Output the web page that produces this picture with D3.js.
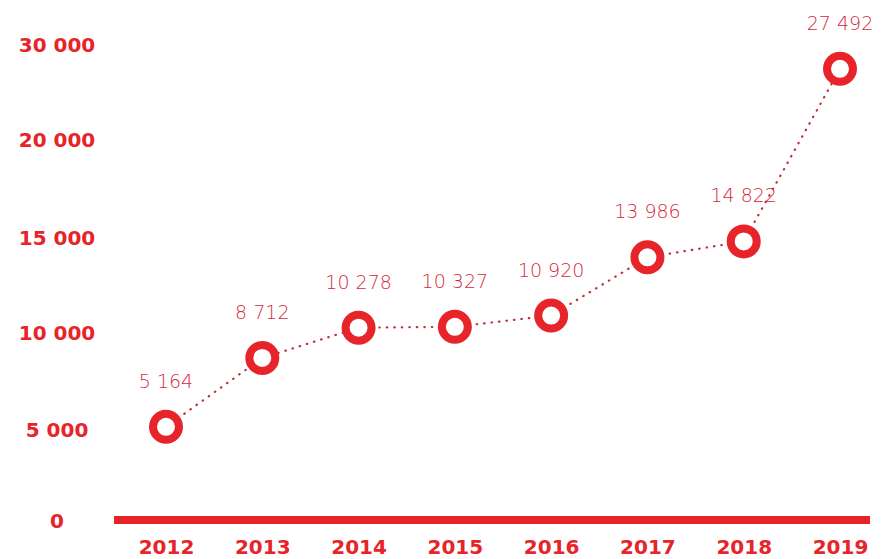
<!DOCTYPE html>
<html><head><meta charset="utf-8">
<script src="https://cdn.jsdelivr.net/npm/d3@7"></script>
<style>body{margin:0;background:#fff}svg{display:block}</style>
</head><body>
<svg id="c" width="881" height="559"></svg>
<script>
const years = ["2012","2013","2014","2015","2016","2017","2018","2019"];
const values = [5164, 8712, 10278, 10327, 10920, 13986, 14822, 27492];
const valueLabels = ["5 164","8 712","10 278","10 327","10 920","13 986","14 822","27 492"];
const yTicks = [0, 5000, 10000, 15000, 20000, 30000];
const yTickLabels = ["0","5 000","10 000","15 000","20 000","30 000"];

const red = "#e62429";
const svg = d3.select("#c");
const x = d3.scalePoint().domain(years).range([166, 840]);
const y = d3.scaleLinear().domain(yTicks).range([521, 430, 333, 238, 140, 45]);

// baseline
svg.append("line").attr("x1",114).attr("x2",870).attr("y1",520).attr("y2",520)
  .attr("stroke",red).attr("stroke-width",8).attr("stroke-linecap","butt");

// y axis labels
const yAxis = d3.axisLeft(y).tickValues(yTicks).tickFormat((d,i)=>yTickLabels[i]).tickSize(0).tickPadding(0);
const ga = svg.append("g").attr("transform","translate(57,0)").call(yAxis);
ga.select(".domain").remove();
ga.selectAll("text").attr("text-anchor","middle").attr("fill",red)
  .style("font-family","'DejaVu Sans',sans-serif").style("font-weight","bold").style("font-size","20px");

// x axis labels
const xAxis = d3.axisBottom(x).tickSize(0).tickPadding(0);
const gx = svg.append("g").attr("transform","translate(0,540)").call(xAxis);
gx.select(".domain").remove();
gx.selectAll("text").attr("fill",red).attr("dy","0.72em")
  .style("font-family","'DejaVu Sans',sans-serif").style("font-weight","bold").style("font-size","20px");

// dotted line
const line = d3.line().x((d,i)=>x(years[i])).y(d=>y(d));
svg.append("path").datum(values).attr("d",line).attr("fill","none")
  .attr("stroke","#c0303a").attr("stroke-width",2.2).attr("stroke-dasharray","0.5 7").attr("stroke-linecap","round");

// circles
svg.selectAll("circle.pt").data(values).join("circle").attr("class","pt")
  .attr("cx",(d,i)=>x(years[i])).attr("cy",d=>y(d)).attr("r",13)
  .attr("fill","#fff").attr("stroke",red).attr("stroke-width",8);

// value labels
svg.selectAll("text.vl").data(values).join("text").attr("class","vl")
  .attr("x",(d,i)=>x(years[i])).attr("y",d=>y(d)-39)
  .attr("text-anchor","middle").attr("fill","#d42a3a")
  .style("font-family","'DejaVu Sans',sans-serif").style("font-weight","200").style("font-size","19px")
  .text((d,i)=>valueLabels[i]);
</script>
</body></html>
